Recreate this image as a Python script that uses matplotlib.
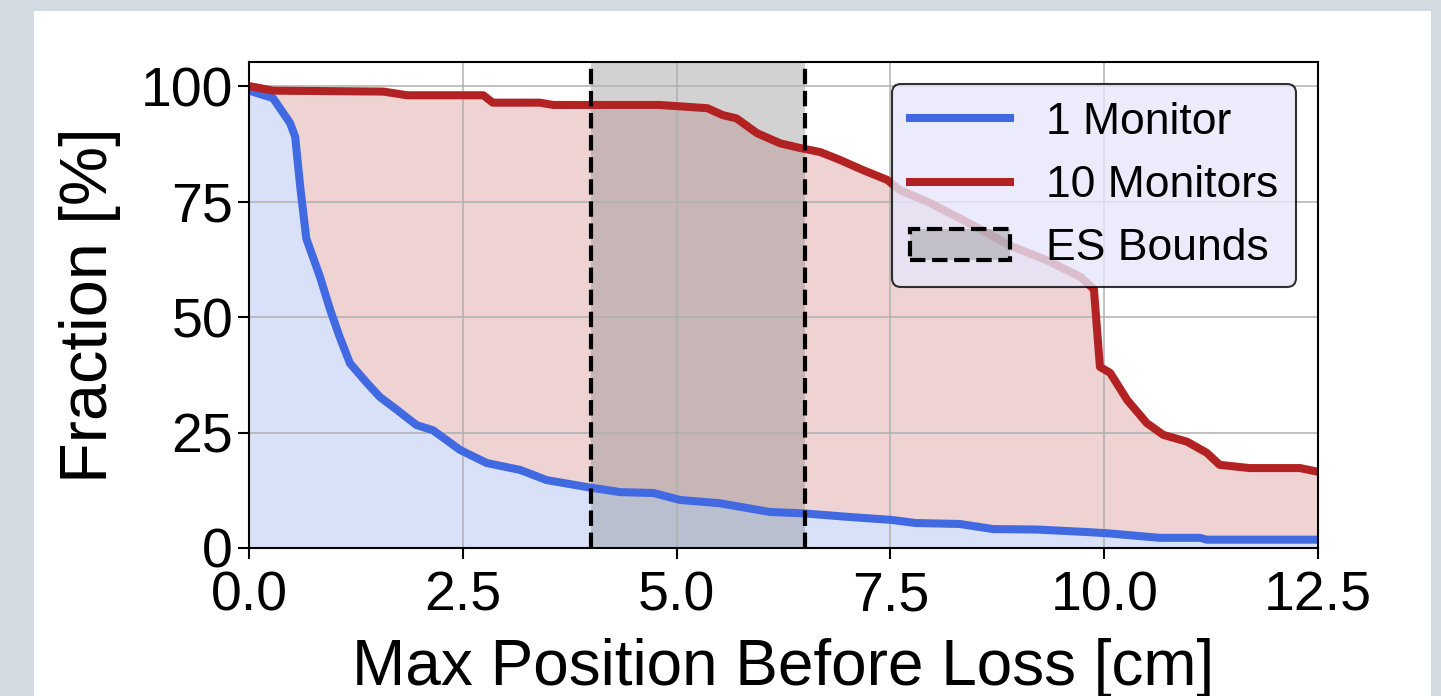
import matplotlib
matplotlib.use("Agg")
import matplotlib.pyplot as plt
from matplotlib.patches import Rectangle

# 1 Monitor curve
x_one = [0.0, 0.28, 0.48, 0.54, 0.60, 0.67, 0.83, 0.95, 1.06, 1.18, 1.38, 1.53,
         1.73, 1.96, 2.15, 2.47, 2.78, 3.17, 3.48, 3.95, 4.34, 4.73, 5.04, 5.5,
         6.09, 6.48, 7.03, 7.5, 7.8, 8.31, 8.7, 9.21, 9.75, 10.03, 10.65, 11.12,
         11.2, 12.5]
y_one = [99.0, 97.4, 92.0, 89.0, 78.0, 67.0, 58.7, 51.5, 45.7, 40.0, 35.7, 32.7,
         29.9, 26.6, 25.5, 21.2, 18.4, 16.9, 14.7, 13.2, 12.1, 11.9, 10.4, 9.7,
         7.8, 7.5, 6.7, 6.1, 5.4, 5.2, 4.1, 4.0, 3.5, 3.2, 2.2, 2.2,
         1.8, 1.8]

# 10 Monitors curve
x_ten = [0.0, 0.28, 1.57, 1.85, 2.74, 2.85, 3.4, 3.56, 4.8, 5.36, 5.54, 5.7,
         5.94, 6.21, 6.44, 6.68, 6.91, 7.18, 7.46, 7.61, 7.96, 8.35, 8.93, 9.33,
         9.72, 9.88, 9.95, 10.07, 10.27, 10.5, 10.69, 10.97, 11.2, 11.35, 11.7,
         12.29, 12.5]
y_ten = [100.0, 99.0, 98.8, 98.0, 98.0, 96.4, 96.4, 95.9, 95.9, 95.2, 93.7, 93.0,
         89.8, 87.6, 86.6, 85.7, 84.0, 81.8, 79.7, 77.5, 74.7, 71.0, 65.2, 62.3,
         58.7, 56.0, 39.2, 37.9, 32.0, 27.0, 24.5, 23.0, 20.6, 18.0, 17.3,
         17.3, 16.5]

es_bounds = [4.0, 6.5]
x_ticks = [0.0, 2.5, 5.0, 7.5, 10.0, 12.5]
y_ticks = [0, 25, 50, 75, 100]

plt.rcParams["font.family"] = ["Liberation Sans", "DejaVu Sans"]

fig = plt.figure(figsize=(14.41, 6.96), dpi=100, facecolor="#d3dbe2")
fig.patches.append(Rectangle((34 / 1441, 0), (1431 - 34) / 1441, (696 - 11) / 696,
                             transform=fig.transFigure, facecolor="white",
                             edgecolor="none", zorder=-10))
ax = fig.add_axes([249 / 1441, 1 - 548 / 696, (1318 - 249) / 1441, (548 - 62) / 696])

blue = "royalblue"
red = "firebrick"

# fills: red under its curve, then blank out below the blue curve
ax.fill_between(x_ten, 0, y_ten, color=red, alpha=0.2, linewidth=0)
ax.fill_between(x_one, 0, y_one, color="white", linewidth=0)
ax.fill_between(x_one, 0, y_one, color=blue, alpha=0.2, linewidth=0)

ax.axvspan(es_bounds[0], es_bounds[1], facecolor=(0.5, 0.5, 0.5, 0.35),
           edgecolor="none")
for xb in es_bounds:
    ax.axvline(xb, color="black", linestyle="--", linewidth=3, zorder=3)

ax.plot(x_one, y_one, color=blue, linewidth=5.8, label="1 Monitor")
ax.plot(x_ten, y_ten, color=red, linewidth=5.8, label="10 Monitors")
ax.add_patch(Rectangle((0, 0), 0, 0, facecolor=(0.5, 0.5, 0.5, 0.35),
                       edgecolor="black", linestyle="--", linewidth=3,
                       label="ES Bounds"))

ax.set_xlim(0, 12.5)
ax.set_ylim(0, 105.2)
ax.set_xticks(x_ticks)
ax.set_yticks(y_ticks)
ax.set_axisbelow("line")
ax.grid(True, color="#b0b0b0", linewidth=1.1)
ax.tick_params(labelsize=40, length=8, width=1.5)
ax.tick_params(axis="x", pad=8)
for s in ax.spines.values():
    s.set_linewidth(1.5)

ax.set_xlabel("Max Position Before Loss [cm]", fontsize=46, labelpad=11)
ax.set_ylabel("Fraction [%]", fontsize=48, labelpad=14)

leg = ax.legend(loc="upper right", fontsize=32, handlelength=2.25,
                facecolor="lavender", edgecolor="black", framealpha=0.8)
leg.get_frame().set_linewidth(1.5)

fig.savefig("out.png", dpi=100, facecolor=fig.get_facecolor())
